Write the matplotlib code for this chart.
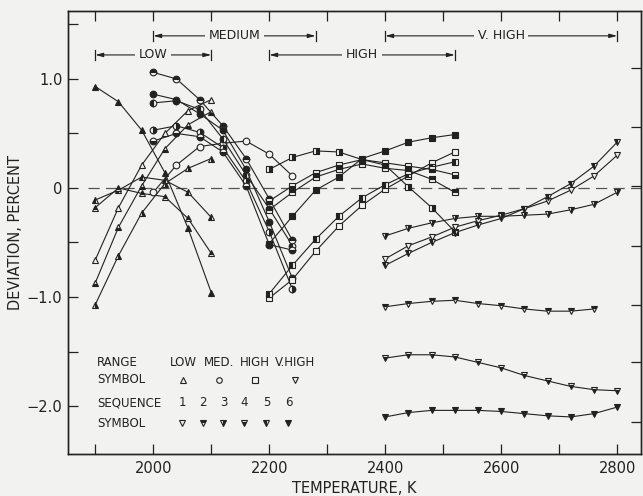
import matplotlib
matplotlib.use('Agg')
import numpy as np
import matplotlib.pyplot as plt

# temperatures of each range, K
t_low = [1900, 1940, 1980, 2020, 2060, 2100]
t_med = [2000, 2040, 2080, 2120, 2160, 2200, 2240]
t_high = [2200, 2240, 2280, 2320, 2360, 2400, 2440, 2480, 2520]
t_vhigh = [2400, 2440, 2480, 2520, 2560, 2600, 2640, 2680, 2720, 2760, 2800]

# deviations, percent (one row per sequence)
low_dev = [
    [-0.66, -0.18, 0.21, 0.50, 0.71, 0.81],
    [-0.87, -0.36, 0.02, 0.36, 0.58, 0.70],
    [-1.07, -0.62, -0.23, 0.04, 0.18, 0.27],
    [-0.11, -0.02, 0.10, 0.07, -0.04, -0.27],
    [-0.18, 0.00, -0.05, -0.08, -0.28, -0.60],
    [0.93, 0.79, 0.53, 0.14, -0.37, -0.96],
]
med_dev = [
    [-0.04, 0.21, 0.38, 0.41, 0.43, 0.31, 0.11],
    [0.78, 0.80, 0.72, 0.45, 0.12, -0.19, -0.53],
    [0.53, 0.57, 0.51, 0.37, 0.06, -0.40, -0.93],
    [0.43, 0.50, 0.47, 0.33, 0.02, -0.52, -0.57],
    [1.06, 1.00, 0.81, 0.57, 0.27, -0.10, -0.48],
    [0.86, 0.81, 0.68, 0.53, 0.17, -0.31, -0.83],
]
high_dev = [
    [-1.01, -0.84, -0.58, -0.35, -0.16, -0.01, 0.11, 0.23, 0.33],
    [-0.97, -0.71, -0.47, -0.26, -0.09, 0.03, 0.13, 0.19, 0.24],
    [0.17, 0.28, 0.34, 0.33, 0.26, 0.21, 0.01, -0.18, -0.40],
    [-0.12, 0.02, 0.14, 0.21, 0.26, 0.23, 0.20, 0.17, 0.12],
    [-0.20, -0.04, 0.10, 0.17, 0.22, 0.18, 0.16, 0.08, -0.04],
    [-0.51, -0.26, -0.02, 0.10, 0.27, 0.34, 0.42, 0.46, 0.49],
]
vhigh_dev = [
    [-0.65, -0.53, -0.45, -0.36, -0.30, -0.25, -0.19, -0.12, -0.02, 0.11, 0.30],
    [-0.71, -0.60, -0.50, -0.41, -0.34, -0.28, -0.19, -0.08, 0.04, 0.20, 0.42],
    [-0.44, -0.37, -0.32, -0.28, -0.26, -0.26, -0.25, -0.24, -0.20, -0.15, -0.04],
    [-1.09, -1.06, -1.04, -1.03, -1.06, -1.08, -1.11, -1.13, -1.13, -1.11, np.nan],
    [-1.56, -1.53, -1.53, -1.55, -1.60, -1.65, -1.72, -1.77, -1.82, -1.85, -1.86],
    [-2.10, -2.06, -2.04, -2.04, -2.04, -2.05, -2.07, -2.09, -2.10, -2.07, -2.01],
]
vhigh_seq = ['none', 'left', 'right', 'top', 'bottom', 'full']

# range bars across the top
ranges = ['LOW', 'MEDIUM', 'HIGH', 'V. HIGH']
range_lo = [1900, 2000, 2200, 2400]
range_hi = [2100, 2280, 2520, 2800]

seq_fill = ['none', 'top', 'right', 'bottom', 'left', 'full']
seq_nums = ['1', '2', '3', '4', '5', '6']

bg = '#f2f2f0'
ink = '#222222'

fig = plt.figure(figsize=(6.43, 4.96), dpi=100, facecolor=bg)
ax = fig.add_axes([0.1058, 0.0847, 0.891, 0.894], facecolor=bg)


def mk(marker, fs, ms=4.8):
    if fs == 'none':
        return dict(marker=marker, ms=ms, mfc=bg, mec=ink, mew=0.8)
    return dict(marker=marker, ms=ms, fillstyle=fs, mfc=ink, markerfacecoloralt=bg,
                mec=ink, mew=0.8)


def draw(temps, devs, marker, fills):
    for d, fs in zip(devs, fills):
        ax.plot(temps, d, color=ink, lw=0.8, zorder=3, **mk(marker, fs))


draw(t_low, low_dev, '^', ['none', 'bottom', 'right', 'left', 'top', 'full'])
draw(t_med, med_dev, 'o', ['none', 'left', 'right', 'bottom', 'top', 'full'])
draw(t_high, high_dev, 's', ['none', 'left', 'right', 'bottom', 'top', 'full'])
draw(t_vhigh, vhigh_dev, 'v', vhigh_seq)

ax.hlines(0, 1888, 2841, colors='#555555', lw=0.9, linestyles=(0, (9, 5)), zorder=1)

# range brackets
ybar = [1.22, 1.395, 1.22, 1.395]
for name, lo, hi, y in zip(ranges, range_lo, range_hi, ybar):
    ax.annotate('', xy=(lo, y), xytext=(hi, y),
                arrowprops=dict(arrowstyle='<|-|>,head_length=0.45,head_width=0.12',
                                color=ink, lw=0.8, shrinkA=0, shrinkB=0))
    ax.plot([lo, lo], [y - 0.045, y + 0.045], color=ink, lw=0.9)
    ax.plot([hi, hi], [y - 0.045, y + 0.045], color=ink, lw=0.9)
    ax.text((lo + hi) / 2, y, name, ha='center', va='center', fontsize=9, color=ink,
            zorder=6, bbox=dict(fc=bg, ec='none', pad=2.5))

# symbol key
kx = 1903
ax.text(kx, -1.60, 'RANGE', fontsize=8.5, va='center', color=ink)
ax.text(kx, -1.76, 'SYMBOL', fontsize=8.5, va='center', color=ink)
ax.text(kx, -1.97, 'SEQUENCE', fontsize=8.5, va='center', color=ink)
ax.text(kx, -2.16, 'SYMBOL', fontsize=8.5, va='center', color=ink)
key_x = [2052, 2114, 2176, 2244]
key_lab = ['LOW', 'MED.', 'HIGH', 'V.HIGH']
key_mk = ['^', 'o', 's', 'v']
for x, lab, m in zip(key_x, key_lab, key_mk):
    ax.text(x, -1.60, lab, fontsize=8.5, ha='center', va='center', color=ink)
    ax.plot([x], [-1.76], ls='none', **mk(m, 'none', 4))
seq_x = [2050, 2086, 2121, 2157, 2195, 2233]
for x, n, fs in zip(seq_x, seq_nums, seq_fill):
    ax.text(x, -1.97, n, fontsize=8.5, ha='center', va='center', color=ink)
    ax.plot([x], [-2.16], ls='none', **mk('v', fs, 4))

ax.set_xlim(1853, 2841)
ax.set_ylim(-2.44, 1.627)
ax.set_xticks([2000, 2200, 2400, 2600, 2800])
ax.set_xticks([1900, 2100, 2300, 2500, 2700], minor=True)
ax.set_yticks([1.0, 0, -1.0, -2.0], labels=['1.0', '0', '\u22121.0', '\u22122.0'])
ax.set_yticks([1.5, 0.5, -0.5, -1.5], minor=True)
ax.tick_params(which='both', direction='in', length=7, width=0.9, top=True,
               right=False, colors=ink, labelsize=10.5)
ax.tick_params(axis='x', pad=5)
ax.tick_params(axis='y', pad=4)

# right-hand ticks sit on their own spacing
ax2 = ax.twinx()
ax2.set_ylim(ax.get_ylim())
ax2.set_yticks([1.10, 0.56, 0.02, -0.53, -1.07, -1.60, -2.15])
ax2.tick_params(direction='in', length=7, width=0.9, labelright=False, colors=ink)

for a in (ax, ax2):
    for s in a.spines.values():
        s.set_linewidth(1.0)
        s.set_color(ink)

ax.set_xlabel('TEMPERATURE, K', fontsize=10.5, color=ink, labelpad=4)
ax.set_ylabel('DEVIATION, PERCENT', fontsize=10.5, color=ink, labelpad=3)

fig.savefig('out.png', dpi=100, facecolor=bg)
